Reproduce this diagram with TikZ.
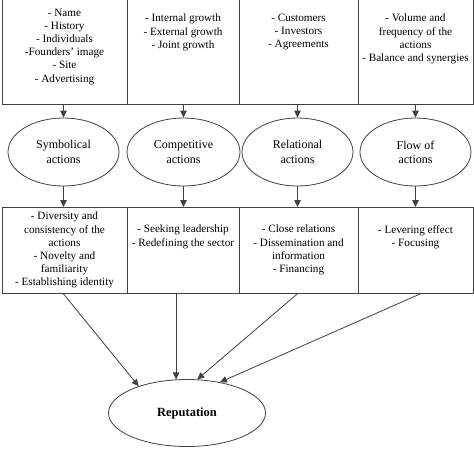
\documentclass[tikz,border=0pt]{standalone}
\usepackage{fontspec}
\setmainfont{Liberation Serif}
\usetikzlibrary{shapes.geometric,arrows.meta,positioning}
\begin{document}
\begin{tikzpicture}[x=1pt,y=-1pt,
  line/.style={draw=black!75, line width=0.8pt},
  box/.style={line, rectangle, inner sep=0pt, anchor=north west},
  oval/.style={line, ellipse, inner sep=0pt, minimum width=112pt, minimum height=68pt, align=center, font=\fontsize{12}{14.3}\selectfont},
  txt/.style={align=center, inner sep=0pt, anchor=north, font=\fontsize{11.2}{13.1}\selectfont},
  arr/.style={line, -{Triangle[length=7pt,width=6.5pt]}}
]
\useasboundingbox (0,0) rectangle (474,448);
% top boxes
\node[box, minimum width=125pt, minimum height=105pt] (t1) at (2,-1) {};
\node[box, minimum width=112pt, minimum height=105pt] (t2) at (127,-1) {};
\node[box, minimum width=119pt, minimum height=105pt] (t3) at (239,-1) {};
\node[box, minimum width=115pt, minimum height=105pt] (t4) at (358,-1) {};
\node[txt] (tt1) at (64.5,9) {- Name\\- History\\- Individuals\\-Founders' image\\- Site\\- Advertising};
\node[txt] (tt2) at (183,14) {- Internal growth\\- External growth\\- Joint growth};
\node[txt] (tt3) at (298.5,14) {- Customers\\- Investors\\- Agreements};
\node[txt] (tt4) at (415.5,14) {- Volume and\\frequency of the\\actions\\- Balance and synergies};
% ellipses
\node[oval, minimum width=111pt] (e1) at (63.5,152) {Symbolical\\actions};
\node[oval, minimum width=113pt] (e2) at (183.5,152) {Competitive\\actions};
\node[oval, minimum width=111pt] (e3) at (297.5,152) {Relational\\actions};
\node[oval, minimum width=111pt] (e4) at (415.5,152) {Flow of\\actions};
% bottom boxes
\node[box, minimum width=125pt, minimum height=86pt] (b1) at (2,207) {};
\node[box, minimum width=112pt, minimum height=86pt] (b2) at (127,207) {};
\node[box, minimum width=119pt, minimum height=86pt] (b3) at (239,207) {};
\node[box, minimum width=115pt, minimum height=86pt] (b4) at (358,207) {};
\node[txt] (bt1) at (64.5,212) {- Diversity and\\consistency of the\\actions\\- Novelty and\\familiarity\\- Establishing identity};
\node[txt] (bt2) at (183,225) {- Seeking leadership\\- Redefining the sector};
\node[txt] (bt3) at (298.5,225) {- Close relations\\- Dissemination and\\information\\- Financing};
\node[txt] (bt4) at (415.5,225) {- Levering effect\\- Focusing};
% reputation
\node[line, ellipse, inner sep=0pt, minimum width=157pt, minimum height=67pt, font=\fontsize{12.5}{15}\selectfont\bfseries] (r) at (187,413) {Reputation};
% arrows
\foreach \i in {1,2,3,4}{
  \draw[arr] (t\i.south -| e\i.north) -- (e\i.north);
  \draw[arr] (e\i.south) -- (e\i.south |- b\i.north);
}
\draw[arr] ([xshift=-1.5pt]b1.south) -- (r.151);
\draw[arr] (r.108 |- b2.south) -- (r.108);
\draw[arr] ([xshift=-1.5pt]b3.south) -- (r.73);
\draw[arr] ([xshift=4.5pt]b4.south) -- (r.43);
\end{tikzpicture}
\end{document}
